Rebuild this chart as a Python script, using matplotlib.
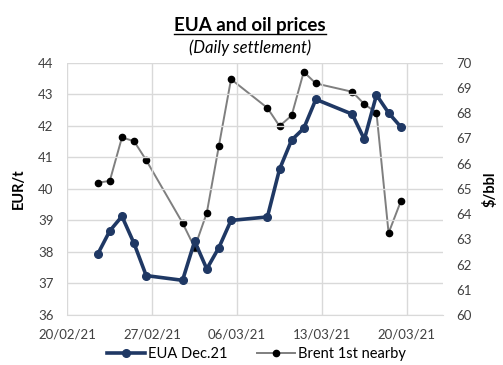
import numpy as np
import pandas as pd
import matplotlib
matplotlib.use("Agg")
from matplotlib import pyplot as plt
import matplotlib.dates as mdates
from matplotlib.lines import Line2D

plt.rcParams['font.family'] = ['Lato', 'DejaVu Sans']

dates = ['2021-02-22', '2021-02-23', '2021-02-24', '2021-02-25', '2021-02-26',
         '2021-03-01', '2021-03-02', '2021-03-03', '2021-03-04', '2021-03-05',
         '2021-03-08', '2021-03-09', '2021-03-10', '2021-03-11', '2021-03-12',
         '2021-03-15', '2021-03-16', '2021-03-17', '2021-03-18', '2021-03-19']
eua = [37.93, 38.67, 39.13, 38.27, 37.25, 37.10, 38.34, 37.46, 38.14, 39.00,
       39.11, 40.62, 41.55, 41.92, 42.84, 42.37, 41.57, 42.98, 42.41, 41.97]
brent = [65.24, 65.32, 67.04, 66.89, 66.14, 63.65, 62.67, 64.05, 66.71, 69.35,
         68.21, 67.49, 67.91, 69.64, 69.18, 68.85, 68.36, 68.02, 63.25, 64.50]
date_ticks = ['2021-02-20', '2021-02-27', '2021-03-06', '2021-03-13', '2021-03-20']

# Excel date axis puts points between tick marks -> shift by half a day
x = pd.to_datetime(dates) + pd.Timedelta(hours=12)
ticks = pd.to_datetime(date_ticks)

fig = plt.figure(figsize=(5.03, 3.65), dpi=100)
ax = fig.add_axes([0.134, 0.137, 0.747, 0.691])
ax2 = ax.twinx()

grid_c = '#d9d9d9'
ax.plot(x, brent, alpha=0)  # keep date units on ax
ax2.plot(x, brent, color='#7f7f7f', lw=1.4, marker='o', ms=4.5,
         mfc='black', mec='black', zorder=3)
ax.plot(x, eua, color='#1f3864', lw=2.6, marker='o', ms=5.5,
        mfc='#1f3864', mec='#1f3864', zorder=4)

ax.set_zorder(ax2.get_zorder() + 1)
ax.patch.set_visible(False)

ax.set_xlim(pd.Timestamp('2021-02-20'), pd.Timestamp('2021-03-23'))
ax.set_ylim(36, 44)
ax2.set_ylim(60, 70)
ax.set_xticks(ticks)
ax.xaxis.set_major_formatter(mdates.DateFormatter('%d/%m/%y'))
ax.set_yticks(np.arange(36, 45, 1))
ax2.set_yticks(np.arange(60, 71, 1))

ax.grid(True, color=grid_c, lw=1)
for a in (ax, ax2):
    for s in a.spines.values():
        s.set_visible(False)
    a.tick_params(length=0, labelsize=9.5, colors='#404040')
ax.spines['bottom'].set_visible(True)
ax.spines['bottom'].set_color(grid_c)
ax.tick_params(axis='y', pad=10)
ax2.tick_params(axis='y', pad=9.5)
ax.tick_params(axis='x', pad=10)

ax.set_ylabel('EUR/t', fontsize=10.5, fontweight='bold', labelpad=9)
ax2.set_ylabel('$/bbl', fontsize=10.5, fontweight='bold', labelpad=8)

t = fig.text(0.497, 0.916, 'EUA and oil prices', ha='center', va='baseline',
             fontsize=13.5, fontweight='bold')
fig.text(0.497, 0.856, '(Daily settlement)', ha='center', va='baseline',
         fontsize=12, style='italic')

# underline the title
fig.canvas.draw()
bb = t.get_window_extent().transformed(fig.transFigure.inverted())
fig.add_artist(Line2D([bb.x0, bb.x1], [0.906, 0.906], color='black', lw=1,
                      transform=fig.transFigure))

handles = [Line2D([], [], color='#1f3864', lw=2.6, marker='o', ms=5.5),
           Line2D([], [], color='#7f7f7f', lw=1.4, marker='o', ms=4.5,
                  mfc='black', mec='black')]
fig.legend(handles, ['EUA Dec.21', 'Brent 1st nearby'], loc='lower center',
           bbox_to_anchor=(0.51, -0.025), ncol=2, frameon=False, fontsize=10.5,
           handlelength=2.6, columnspacing=2.0, handletextpad=0.2)

fig.savefig('out.png', dpi=100)
